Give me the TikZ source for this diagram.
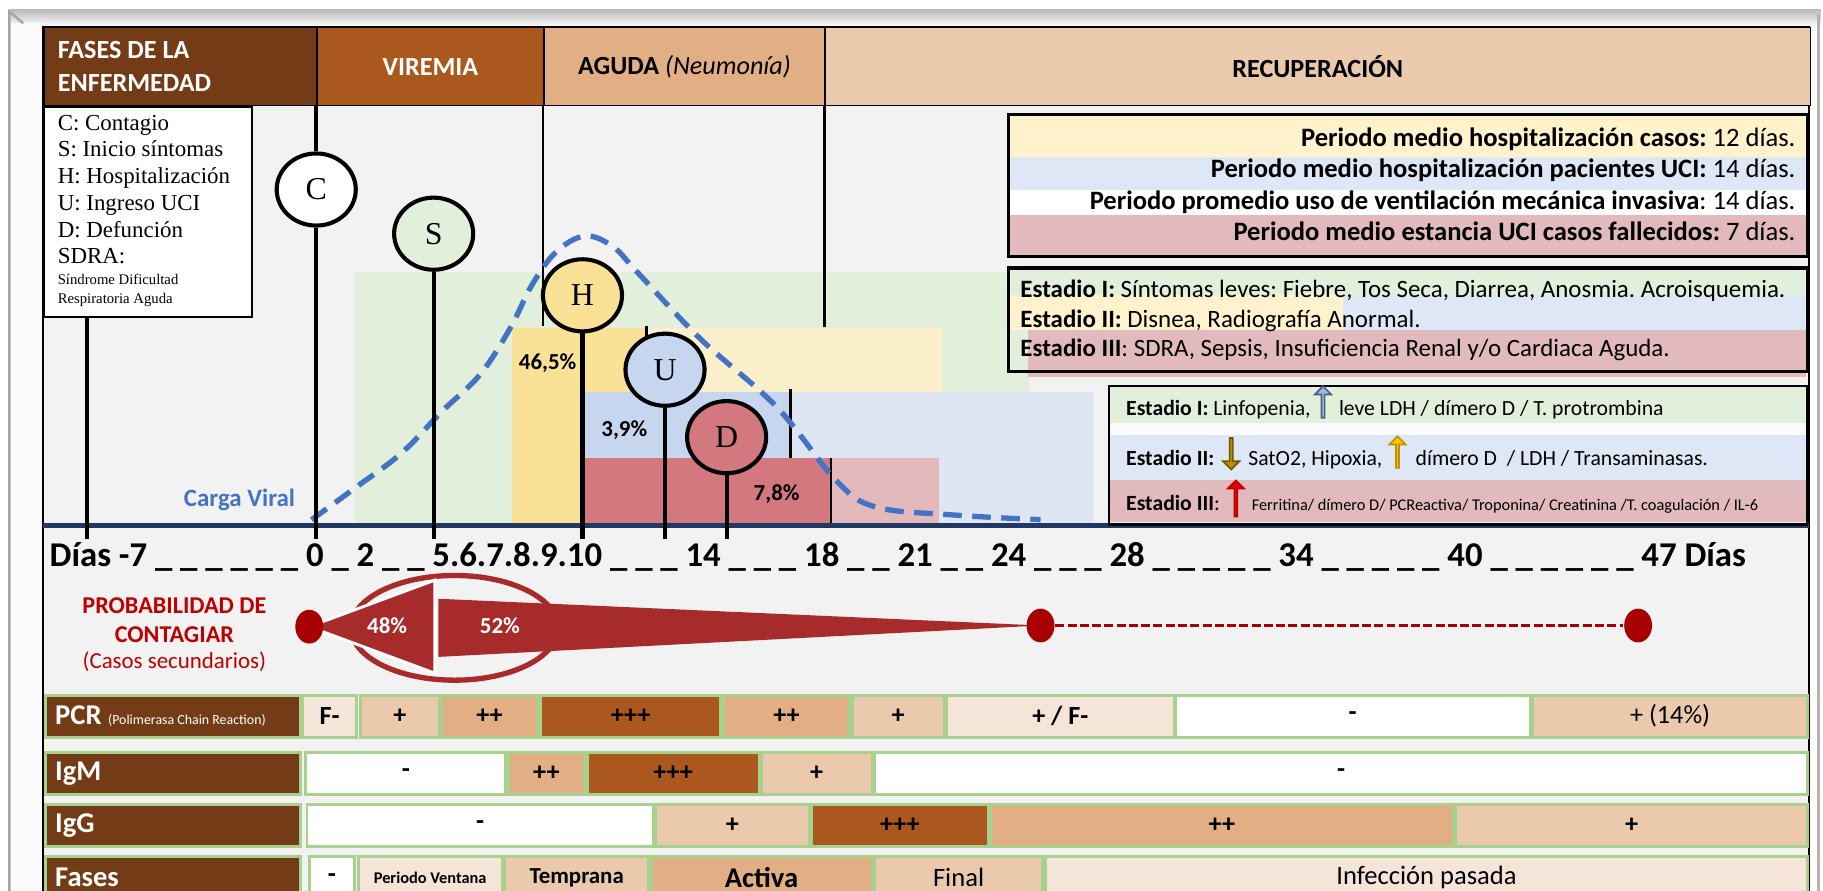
\documentclass[tikz,border=0pt]{standalone}
\usepackage{fontspec}
\setmainfont{Carlito}
\newfontfamily\leyfont{Liberation Serif}
\usetikzlibrary{shapes.geometric,shapes.arrows}
\definecolor{marron}{HTML}{743C16}
\definecolor{oxido}{HTML}{AB581E}
\definecolor{canela}{HTML}{E2AE84}
\definecolor{durazno}{HTML}{EBC9AD}
\definecolor{palido}{HTML}{F5E4D8}
\definecolor{fondo}{HTML}{F2F2F2}
\definecolor{verdeclaro}{HTML}{E2EFDA}
\definecolor{amarillo}{HTML}{F9E196}
\definecolor{amarillopal}{HTML}{FCF0CC}
\definecolor{azul}{HTML}{C5D6EE}
\definecolor{azulpal}{HTML}{DEE6F4}
\definecolor{rojo}{HTML}{D3787E}
\definecolor{rojopal}{HTML}{E3B9BC}
\definecolor{azulcurva}{HTML}{4472C4}
\definecolor{marino}{HTML}{1F3864}
\definecolor{rojoprob}{HTML}{A82B2B}
\definecolor{rojopunto}{HTML}{A80000}
\definecolor{rojotexto}{HTML}{C00000}
\definecolor{verdeborde}{HTML}{A9D18E}
\definecolor{bandaama}{HTML}{FFF2CC}
\definecolor{bandaazul}{HTML}{DEE7F5}
\definecolor{bandaroja}{HTML}{E2B9BD}
\definecolor{oro}{HTML}{BF9000}
\definecolor{oroclaro}{HTML}{FFC000}

\begin{document}
\frenchspacing
\begin{tikzpicture}[x=0.01cm,y=-0.01cm]
    % Estilos
    \tikzstyle{hito}=[draw,ellipse,line width=1pt,minimum width=0.68cm,minimum height=0.62cm,inner sep=0pt,font=\leyfont\fontsize{7.8}{8}\selectfont]
    \tikzstyle{tallo}=[line width=1pt]
    \tikzstyle{cabecera}=[draw=black,line width=0.4pt,anchor=north west,minimum height=0.67cm,inner sep=0pt,font=\bfseries\fontsize{6.4}{7.9}\selectfont]
    \tikzstyle{leyenda}=[anchor=base west,inner sep=0pt,font=\leyfont\fontsize{5.6}{6.5}\selectfont]
    \tikzstyle{pct}=[font=\bfseries\fontsize{5.6}{6}\selectfont]
    \tikzstyle{periodo}=[anchor=base east,inner sep=0pt,font=\fontsize{6.5}{7}\selectfont]
    \tikzstyle{texto}=[anchor=base west,inner sep=0pt,font=\fontsize{6.1}{7}\selectfont]
    \tikzstyle{lab}=[anchor=base west,inner sep=0pt,font=\fontsize{5.3}{6}\selectfont]
    \tikzstyle{flechita}=[single arrow,shape border rotate=90,minimum height=0.27cm,minimum width=0.14cm,single arrow head extend=0.03cm,inner sep=0pt,line width=0.4pt]
    \tikzstyle{rotulo}=[fill=marron,draw=verdeborde,line width=0.7pt,text=white,minimum width=2.19cm,minimum height=0.36cm,text width=2.03cm,align=flush left,inner xsep=0.08cm,inner ysep=0pt,font=\bfseries\fontsize{7}{8}\selectfont]
    \tikzstyle{celda}=[draw=verdeborde,line width=0.7pt,minimum height=0.36cm,inner sep=0pt,font=\bfseries\fontsize{6.4}{7}\selectfont]
    % Dimensiones
    \def\Eje{452}
    \def\Tope{464}
    \useasboundingbox (0,0) rectangle (1568,766);
    % Marco
    \fill[white] (0,0) rectangle (1568,766);
    \shade[top color=gray!55,bottom color=white] (8,8) rectangle (1566,23);
    \fill[gray!4] (8,20) rectangle (37,780);
    \draw[gray!70,line width=0.6pt] (8,780) -- (8,10) -- (20,20);
    \draw[gray!60,line width=0.6pt] (1564,12) -- (1564,780);
    \fill[fondo] (37,23) rectangle (1556,780);
    \draw[line width=0.6pt] (37,780) -- (37,23) -- (1556,23) -- (1556,780);
    % Cabecera
    \node[cabecera,fill=marron,text=white,minimum width=2.35cm,text width=2.11cm,inner xsep=0.12cm,align=flush left] (fases) at (37,23) {FASES DE LA\\ENFERMEDAD};
    \node[cabecera,fill=oxido,text=white,minimum width=1.95cm] (viremia) at (272,23) {VIREMIA};
    \node[cabecera,fill=canela,minimum width=2.42cm] (aguda) at (467,23) {AGUDA \textmd{\itshape (Neumonía)}};
    \node[cabecera,fill=durazno,minimum width=8.47cm] (recup) at (709,23) {RECUPERACIÓN};
    % Leyenda
    \node[draw,fill=white,line width=0.5pt,anchor=north west,minimum width=1.79cm,minimum height=1.81cm,inner sep=0pt] (ley) at (37,91) {};
    \foreach \t [count=\i] in {C: Contagio,S: Inicio síntomas,H: Hospitalización,U: Ingreso UCI,D: Defunción,SDRA:}
        \node[leyenda] (ley\i) at (49,{89+23*\i}) {\t};
    \node[leyenda,font=\leyfont\fontsize{3.6}{4.4}\selectfont] (ley7) at (49,245) {Síndrome Dificultad};
    \node[leyenda,font=\leyfont\fontsize{3.6}{4.4}\selectfont] (ley8) at (49,261) {Respiratoria Aguda};
    % Periodos de ingreso
    \fill[verdeclaro] (305,234) rectangle (885,452);
    \fill[amarillopal] (556,282) rectangle (810,337);
    \fill[amarillo] (440,282) rectangle (556,337);
    \fill[amarillo] (440,337) rectangle (503,452);
    \fill[azulpal] (680,337) rectangle (940,450);
    \fill[azul] (503,337) rectangle (680,394);
    \fill[rojopal] (715,394) rectangle (808,450);
    \fill[rojo] (503,394) rectangle (715,450);
    \draw[line width=0.6pt] (556,280) -- (556,292);
    \draw[line width=0.8pt] (680,335) -- (680,394);
    \draw[line width=0.5pt] (715,394) -- (715,450);
    \coordinate (fA) at (467,280);
    \coordinate (fR) at (709,281);
    \draw[line width=0.6pt] (aguda.south west) -- (fA);
    \draw[line width=0.6pt] (recup.south west) -- (fR);
    \draw[marino,line width=1pt] (37,\Eje) -- (1556,\Eje);
    % Carga viral
    \draw[azulcurva,line width=1.3pt,dash pattern=on 0.16cm off 0.09cm] plot[smooth,tension=0.6] coordinates {(268,447) (305,420) (345,390) (380,354) (413,322) (439,282) (457,246) (478,217) (503,203) (527,212) (549,235) (603,292) (668,350) (719,413) (753,436) (821,443) (895,447)};
    \node[font=\bfseries\fontsize{6.1}{7}\selectfont,text=azulcurva] (carga) at (206,430) {Carga Viral};
    % Hitos
    \node[hito,fill=white] (C) at (272,163) {C};
    \node[hito,fill=verdeclaro] (S) at (373,201) {S};
    \node[hito,fill=amarillo] (H) at (501,254) {H};
    \node[hito,fill=azul] (U) at (572,318) {U};
    \node[hito,fill=rojo] (D) at (625,376) {D};
    \coordinate (tM7) at (75,\Tope);
    \coordinate (t0) at (272,\Tope);
    \coordinate (t5) at (373,\Tope);
    \coordinate (t10) at (501,\Tope);
    \coordinate (t14) at (572,\Tope);
    \coordinate (t16) at (625,\Tope);
    \draw[tallo] (viremia.south west) -- (C);
    \draw[tallo] (C) -- (t0);
    \draw[tallo] (S) -- (t5);
    \draw[tallo] (H) -- (t10);
    \draw[tallo] (U) -- (t14);
    \draw[tallo] (D) -- (t16);
    \draw[tallo] (ley.south -| tM7) -- (tM7);
    \node[pct] (p465) at (471,312) {46,5\%};
    \node[pct] (p39) at (537,370) {3,9\%};
    \node[pct] (p78) at (668,425) {7,8\%};
    % Cuadro de periodos
    \fill[bandaama] (866,97) rectangle (1553,135);
    \fill[bandaazul] (866,135) rectangle (1553,163);
    \fill[white] (866,163) rectangle (1553,185);
    \fill[bandaroja] (866,185) rectangle (1553,219);
    \node[draw,line width=0.8pt,anchor=north west,minimum width=6.87cm,minimum height=1.22cm,inner sep=0pt] (periodos) at (866,97) {};
    \node[periodo] (per1) at (1545,126) {\textbf{Periodo medio hospitalización casos:} 12 días.};
    \node[periodo] (per2) at (1545,153) {\textbf{Periodo medio hospitalización pacientes UCI:} 14 días.};
    \node[periodo] (per3) at (1545,180) {\textbf{Periodo promedio uso de ventilación mecánica invasiva}: 14 días.};
    \node[periodo] (per4) at (1545,207) {\textbf{Periodo medio estancia UCI casos fallecidos:} 7 días.};
    % Cuadro de estadios
    \fill[verdeclaro] (866,229) rectangle (1553,254);
    \fill[bandaama] (866,254) rectangle (1155,284);
    \fill[bandaazul] (1155,254) rectangle (1553,284);
    \fill[verdeclaro] (866,284) rectangle (884,318);
    \fill[bandaroja] (884,284) rectangle (1553,324);
    \node[draw,line width=0.8pt,anchor=north west,minimum width=6.87cm,minimum height=0.89cm,inner sep=0pt] (estadios) at (866,229) {};
    \node[texto] (est1) at (877,256) {\textbf{Estadio I:} Síntomas leves: Fiebre, Tos Seca, Diarrea, Anosmia. Acroisquemia.};
    \node[texto] (est2) at (877,282) {\textbf{Estadio II:} Disnea, Radiografía Anormal.};
    \node[texto] (est3) at (877,307) {\textbf{Estadio III}: SDRA, Sepsis, Insuficiencia Renal y/o Cardiaca Aguda.};
    % Cuadro de laboratorio
    \fill[verdeclaro] (953,331) rectangle (1553,364);
    \fill[white!60!fondo] (953,364) rectangle (1553,374);
    \fill[bandaazul] (953,374) rectangle (1553,413);
    \fill[bandaroja] (953,413) rectangle (1553,449);
    \node[draw,line width=0.6pt,anchor=north west,minimum width=6cm,minimum height=1.19cm,inner sep=0pt] (labbox) at (953,331) {};
    \node[lab] (lab1a) at (968,357) {\textbf{Estadio I:} Linfopenia,};
    \node[flechita,fill=azul!70!azulcurva,draw=marino!80,anchor=south] (fl1) at (1138,360) {};
    \node[lab] (lab1b) at (1151,357) {leve LDH / dímero D / T. protrombina};
    \node[lab] (lab2a) at (968,400) {\textbf{Estadio II:}};
    \node[flechita,fill=oro,draw=oro!60!black,shape border rotate=270,anchor=north] (fl2) at (1059,376) {};
    \node[lab] (lab2b) at (1073,400) {SatO2, Hipoxia,};
    \node[flechita,fill=oroclaro,draw=oro,anchor=south] (fl3) at (1202,403) {};
    \node[lab] (lab2c) at (1217,400) {dímero D \ / LDH / Transaminasas.};
    \node[lab] (lab3a) at (968,439) {\textbf{Estadio III}:};
    \node[flechita,fill=red!90!black,draw=rojotexto,minimum height=0.31cm,anchor=south] (fl4) at (1063,445) {};
    \node[lab,font=\fontsize{4}{5}\selectfont] (lab3b) at (1076,439) {Ferritina/ dímero D/ PCReactiva/ Troponina/ Creatinina /T. coagulación / IL-6};
    % Eje de dias
    \node[anchor=base west,inner sep=0pt,font=\bfseries\fontsize{8.5}{9}\selectfont] (dias) at (42,487) {Días -7 \_ \_ \_ \_ \_ \_ 0 \_ 2 \_ \_ 5.6.7.8.9.10 \_ \_ \_ 14 \_ \_ \_ 18 \_ \_ 21 \_ \_ 24 \_ \_ \_ 28 \_ \_ \_ \_ \_ 34 \_ \_ \_ \_ \_ 40 \_ \_ \_ \_ \_ \_ 47 Días};
    % Probabilidad de contagio
    \node[align=center,text=rojotexto,font=\bfseries\fontsize{5.9}{7.1}\selectfont] (prob) at (150,533) {PROBABILIDAD DE\\CONTAGIAR};
    \node[text=rojotexto,font=\fontsize{5.6}{6.5}\selectfont] (casos) at (150,569) {(Casos secundarios)};
    \node[draw=rojoprob,line width=1.3pt,ellipse,minimum width=1.78cm,minimum height=0.9cm,inner sep=0pt] (elipse) at (391,540) {};
    \coordinate (c0) at (266,539);
    \coordinate (c24) at (895,538);
    \coordinate (c47) at (1409,538);
    \filldraw[fill=rojoprob,draw=white,line width=0.7pt] (c0) -- (374,499) -- (374,579) -- cycle;
    \fill[rojoprob] (377,515) -- (377,565) -- (c24) -- cycle;
    \node[fill=rojopunto,ellipse,minimum width=0.24cm,minimum height=0.29cm,inner sep=0pt] (p0) at (c0) {};
    \node[fill=rojopunto,ellipse,minimum width=0.24cm,minimum height=0.29cm,inner sep=0pt] (p24) at (c24) {};
    \node[fill=rojopunto,ellipse,minimum width=0.24cm,minimum height=0.29cm,inner sep=0pt] (p47) at (c47) {};
    \draw[rojopunto,line width=0.9pt,dash pattern=on 2.2pt off 0.8pt] (p24) -- (p47);
    \node[text=white,font=\bfseries\fontsize{5.6}{6}\selectfont] (t48) at (333,538) {48\%};
    \node[text=white,font=\bfseries\fontsize{5.6}{6}\selectfont] (t52) at (430,538) {52\%};
    % Tabla de pruebas
    \def\FilaPCR{260/307/palido/F-,310/378/durazno/+,380/462/canela/++,465/620/oxido/+++,622/731/canela/++,733/812/durazno/+,814/1010/palido/{+ / F-},1011/1316/white/-,1318/1555/durazno/{\mdseries + (14\%)}}
    \def\FilaIgM{263/435/white/-,437/503/canela/++,505/653/oxido/+++,655/750/durazno/+,752/1555/white/-}
    \def\FilaIgG{264/562/white/-,564/696/durazno/+,698/850/oxido/+++,852/1250/canela/++,1252/1555/durazno/+}
    \def\FilaFases{266/305/white/-,308/432/palido/{\fontsize{4}{5}\selectfont Periodo Ventana},434/558/durazno/{\fontsize{5.6}{6}\selectfont Temprana},560/750/canela/{\fontsize{7}{8}\selectfont Activa},752/897/durazno/{\mdseries\fontsize{6.5}{7}\selectfont Final},899/1555/palido/{\mdseries\fontsize{6.5}{7}\selectfont Infección pasada}}
    \node[rotulo] (lpcr) at (149,616) {PCR {\mdseries\fontsize{3.4}{4}\selectfont (Polimerasa Chain Reaction)}};
    \node[rotulo] (ligm) at (149,665) {IgM};
    \node[rotulo] (ligg) at (149,710) {IgG};
    \node[rotulo] (lfases) at (149,755) {Fases};
    \foreach \a/\b/\c/\t in \FilaPCR
        \node[celda,fill=\c,minimum width={(\b-\a)*0.01cm}] (pcr\a) at ({(\a+\b)/2},616) {\t};
    \foreach \a/\b/\c/\t in \FilaIgM
        \node[celda,fill=\c,minimum width={(\b-\a)*0.01cm}] (igm\a) at ({(\a+\b)/2},665) {\t};
    \foreach \a/\b/\c/\t in \FilaIgG
        \node[celda,fill=\c,minimum width={(\b-\a)*0.01cm}] (igg\a) at ({(\a+\b)/2},710) {\t};
    \foreach \a/\b/\c/\t in \FilaFases
        \node[celda,fill=\c,minimum width={(\b-\a)*0.01cm}] (fas\a) at ({(\a+\b)/2},755) {\t};
\end{tikzpicture}
\end{document}
